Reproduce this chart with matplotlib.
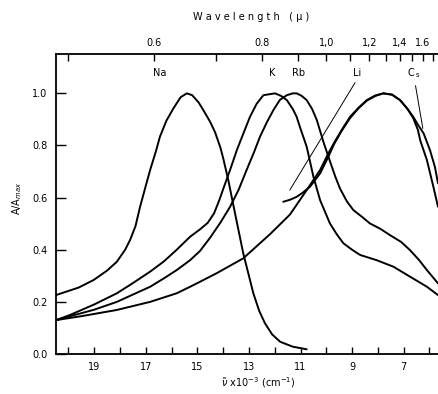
import matplotlib
matplotlib.use("Agg")
import matplotlib.pyplot as plt

# ---- data (wavenumber x10^-3 cm^-1, A/Amax) ----
na_nu = [20.48, 19.6, 19.02, 18.5, 18.12, 17.8, 17.61, 17.4, 17.22, 17.0, 16.83, 16.6, 16.45, 16.2, 15.93,
         15.65, 15.41, 15.2, 14.95, 14.77, 14.5, 14.31, 14.1, 13.99, 13.8, 13.54, 13.22, 13.0, 12.83, 12.6,
         12.38, 12.1, 11.79, 11.3, 10.76]
na_a = [0.226, 0.255, 0.284, 0.32, 0.354, 0.40, 0.437, 0.49, 0.565, 0.645, 0.706, 0.78, 0.834, 0.895, 0.942,
        0.985, 1.0, 0.993, 0.965, 0.936, 0.89, 0.85, 0.79, 0.748, 0.667, 0.54, 0.386, 0.30, 0.233, 0.165,
        0.118, 0.075, 0.047, 0.028, 0.018]

k_nu = [20.48, 19.93, 19.0, 18.12, 17.5, 16.83, 16.3, 15.8, 15.28, 14.9, 14.6, 14.35, 14.15, 13.99, 13.7, 13.47,
        13.2, 12.96, 12.7, 12.44, 11.99, 11.75, 11.53, 11.3, 11.15, 11.02, 10.76, 10.5, 10.24, 9.86, 9.6,
        9.34, 9.0, 8.69, 8.05, 7.4, 6.76, 6.1, 5.67]
k_a = [0.13, 0.15, 0.19, 0.233, 0.272, 0.316, 0.355, 0.4, 0.45, 0.478, 0.503, 0.54, 0.59, 0.635, 0.715, 0.782,
       0.85, 0.91, 0.96, 0.993, 1.0, 0.99, 0.974, 0.94, 0.91, 0.87, 0.795, 0.68, 0.59, 0.501, 0.46,
       0.425, 0.40, 0.38, 0.36, 0.335, 0.297, 0.258, 0.226]

rb_nu = [20.48, 19.93, 19.0, 18.12, 17.5, 16.83, 16.3, 15.8, 15.28, 14.9, 14.5, 14.1, 13.73, 13.4, 13.09,
         12.8, 12.57, 12.3, 12.05, 11.8, 11.53, 11.3, 11.15, 10.95, 10.76, 10.55, 10.37, 10.1, 9.86, 9.65,
         9.47, 9.2, 8.95, 8.6, 8.31, 7.9, 7.53, 7.1, 6.76, 6.4, 6.1, 5.67]
rb_a = [0.13, 0.145, 0.17, 0.2, 0.228, 0.258, 0.29, 0.322, 0.36, 0.395, 0.447, 0.505, 0.565, 0.63, 0.706,
        0.775, 0.834, 0.89, 0.936, 0.975, 0.993, 1.0, 1.0, 0.99, 0.974, 0.94, 0.898, 0.81, 0.74, 0.68,
        0.635, 0.585, 0.552, 0.525, 0.501, 0.48, 0.456, 0.43, 0.399, 0.36, 0.322, 0.271]

cs_nu = [20.48, 19.5, 18.12, 16.83, 15.8, 15.28, 14.9, 14.25, 13.22, 12.18, 11.41, 10.76, 10.24, 9.92, 9.7,
         9.4, 9.08, 8.75, 8.43, 8.1, 7.79, 7.45, 7.14, 6.85, 6.63, 6.45, 6.23, 5.98, 5.79, 5.67]
cs_a = [0.13, 0.145, 0.169, 0.2, 0.233, 0.258, 0.277, 0.31, 0.367, 0.46, 0.535, 0.629, 0.706, 0.77, 0.81,
        0.86, 0.91, 0.945, 0.974, 0.992, 1.0, 0.995, 0.974, 0.94, 0.91, 0.88, 0.847, 0.782, 0.718, 0.655]

li_nu = [11.67, 11.4, 11.15, 10.9, 10.63, 10.24, 9.92, 9.7, 9.4, 9.08, 8.75, 8.43, 8.1, 7.79, 7.45, 7.14,
         6.85, 6.63, 6.45, 6.36, 6.1, 5.85, 5.67]
li_a = [0.584, 0.592, 0.603, 0.62, 0.642, 0.693, 0.757, 0.805, 0.857, 0.905, 0.943, 0.972, 0.99, 1.0, 0.995,
        0.974, 0.94, 0.905, 0.86, 0.82, 0.744, 0.642, 0.565]

bottom_ticks = list(range(6, 21))
bottom_labels = [19, 17, 15, 13, 11, 9, 7]
y_ticks = [0.0, 0.2, 0.4, 0.6, 0.8, 1.0]
wl_ticks = [0.5, 0.6, 0.7, 0.8, 0.9, 1.0, 1.1, 1.2, 1.3, 1.4, 1.5, 1.6, 1.7]
wl_labels = {0.6: "0.6", 0.8: "0.8", 1.0: "1,0", 1.2: "1,2", 1.4: "1,4", 1.6: "1.6"}

fig = plt.figure(figsize=(4.38, 3.94), dpi=100)
ax = fig.add_axes([56/438, 1 - 354/394, 1 - 56/438, (354 - 54)/394])

for nu, a in [(na_nu, na_a), (k_nu, k_a), (rb_nu, rb_a), (cs_nu, cs_a), (li_nu, li_a)]:
    ax.plot(nu, a, color="black", lw=1.4, solid_capstyle="round", solid_joinstyle="round")

ax.set_xlim(20.48, 5.67)
ax.set_ylim(0, 1.151)

ax.spines["right"].set_visible(False)
for s in ["left", "bottom", "top"]:
    ax.spines[s].set_linewidth(1.3)

ax.set_xticks(bottom_ticks)
ax.set_xticklabels([str(t) if t in bottom_labels else "" for t in bottom_ticks])
ax.set_yticks(y_ticks)
ax.set_yticklabels(["%.1f" % v for v in y_ticks])
ax.tick_params(axis="both", direction="in", length=5, width=1.0, labelsize=7, pad=6)
ax.tick_params(axis="y", length=7)

ax.set_xlabel(r"$\tilde{\nu}$ x10$^{-3}$ (cm$^{-1}$)", fontsize=7)
ax.xaxis.set_label_coords(0.53, -0.07)
ax.set_ylabel(r"A/A$_{max}$", fontsize=7)
ax.yaxis.set_label_coords(-0.085, 0.52)

ax2 = ax.twiny()
ax2.set_xlim(ax.get_xlim())
ax2.set_xticks([10.0 / l for l in wl_ticks])
ax2.set_xticklabels([wl_labels.get(round(l, 1), "") for l in wl_ticks])
ax2.tick_params(axis="x", direction="in", length=5, width=1.0, labelsize=7, pad=4)
for s in ax2.spines.values():
    s.set_visible(False)
ax2.set_xlabel("W a v e l e n g t h   ( \u00b5 )", fontsize=7, labelpad=12)
ax2.xaxis.set_label_coords(0.51, 1.115)

# curve labels
labels = [("Na", 16.45), ("K", 12.1), ("Rb", 11.09), ("Li", 8.81)]
for t, x in labels:
    ax.text(x, 1.078, t, fontsize=7, ha="center", va="center")
ax.text(6.6, 1.078, r"C$_{\,\mathrm{s}}$", fontsize=7, ha="center", va="center")

# leader lines
ax.annotate("", xy=(11.47, 0.62), xytext=(8.83, 1.05),
            arrowprops=dict(arrowstyle="-", lw=0.7, color="black"))
ax.annotate("", xy=(6.24, 0.855), xytext=(6.56, 1.04),
            arrowprops=dict(arrowstyle="-", lw=0.7, color="black"))

fig.savefig("out.png", dpi=100)
